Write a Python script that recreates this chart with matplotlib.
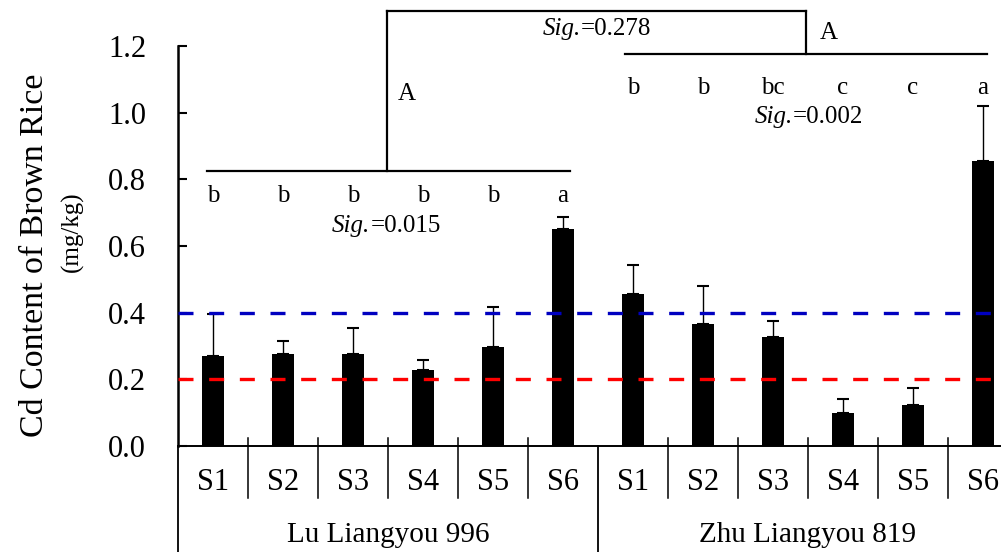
import matplotlib
matplotlib.use("Agg")
import matplotlib.pyplot as plt
import numpy as np

plt.rcParams['font.family'] = ['Liberation Serif', 'DejaVu Serif']

# data
sites = ['S1', 'S2', 'S3', 'S4', 'S5', 'S6']
varieties = ['Lu Liangyou 996', 'Zhu Liangyou 819']
cd_lu = [0.27, 0.276, 0.276, 0.228, 0.297, 0.651]
err_lu = [0.126, 0.04, 0.078, 0.03, 0.12, 0.036]
cd_zhu = [0.456, 0.366, 0.328, 0.10, 0.123, 0.856]
err_zhu = [0.087, 0.114, 0.047, 0.041, 0.051, 0.164]
letters_lu = ['b', 'b', 'b', 'b', 'b', 'a']
letters_zhu = ['b', 'b', 'bc', 'c', 'c', 'a']
sig_lu = '0.015'
sig_zhu = '0.002'
sig_between = '0.278'
limit_blue = 0.4
limit_red = 0.2

W, H = 1001, 552
fig = plt.figure(figsize=(W / 100, H / 100), dpi=100)
ax = fig.add_axes([178 / W, 106 / H, 840 / W, 400 / H])

vals = cd_lu + cd_zhu
errs = err_lu + err_zhu
x = np.arange(len(vals))

ax.bar(x, vals, width=0.32, color='black', zorder=3)
ax.errorbar(x, vals, yerr=[np.zeros(len(errs)), errs], fmt='none',
            ecolor='black', elinewidth=1.0, capsize=4.5, capthick=1.5, zorder=4)

lw = 2.4
ax.axhline(limit_blue, color='#0000c0', lw=lw, ls=(0, (4.5, 4.7)), zorder=5)
ax.axhline(limit_red, color='#ff0000', lw=lw, ls=(0, (4.5, 4.7)), zorder=5)

ax.set_xlim(-0.5, 11.5)
ax.set_ylim(0, 1.2)
ax.set_yticks(np.arange(0, 1.21, 0.2))
ax.set_yticklabels(['%.1f' % v for v in np.arange(0, 1.21, 0.2)], fontsize=22)
ax.tick_params(axis='y', direction='in', length=6.5, width=1.5, pad=23)
ax.set_xticks([])
ax.spines['top'].set_visible(False)
ax.spines['right'].set_visible(False)
ax.spines['left'].set_linewidth(1.8)
ax.spines['bottom'].set_linewidth(1.4)

# category axis below
trans = ax.get_xaxis_transform()
for i, lab in enumerate(sites + sites):
    ax.text(i, -0.11, lab, transform=trans, ha='center', va='baseline', fontsize=22)
for b in [0.5, 1.5, 2.5, 3.5, 4.5, 6.5, 7.5, 8.5, 9.5, 10.5]:
    ax.plot([b, b], [0.02, -0.13], transform=trans, color='black', lw=1.1, clip_on=False)
for b in [-0.5, 5.5, 11.5]:
    ax.plot([b, b], [0.0, -0.3], transform=trans, color='black', lw=1.3, clip_on=False)
for g, name in enumerate(varieties):
    ax.text(2.5 + 6 * g, -0.24, name, transform=trans, ha='center', va='baseline', fontsize=21)

# significance letters
for i, t in enumerate(letters_lu):
    ax.text(i, 0.732, t, ha='center', va='baseline', fontsize=18)
for i, t in enumerate(letters_zhu):
    ax.text(i + 6, 1.056, t, ha='center', va='baseline', fontsize=18, clip_on=False)


def sig_text(x0, y0, value):
    t = ax.text(x0, y0, 'Sig.', style='italic', ha='left', va='baseline', fontsize=18)
    ax.annotate('=' + value, xy=(1, 0), xycoords=t, ha='left', va='bottom', fontsize=18)


sig_text(1.70, 0.642, sig_lu)
sig_text(7.74, 0.969, sig_zhu)
sig_text(4.71, 1.233, sig_between)
ax.text(2.64, 1.038, 'A', ha='left', va='baseline', fontsize=18)
ax.text(8.67, 1.221, 'A', ha='left', va='baseline', fontsize=18, clip_on=False)

# brackets
blw = 1.6
ax.plot([-0.086, 5.1], [0.825, 0.825], color='black', lw=blw, clip_on=False)
ax.plot([2.486, 2.486], [0.825, 1.305], color='black', lw=blw, clip_on=False)
ax.plot([2.486, 8.47], [1.305, 1.305], color='black', lw=blw, clip_on=False)
ax.plot([8.47, 8.47], [1.305, 1.176], color='black', lw=blw, clip_on=False)
ax.plot([5.886, 11.06], [1.176, 1.176], color='black', lw=blw, clip_on=False)

# y label (two lines, different sizes)
fig.text(35 / W, 1 - 255 / H, 'Cd Content of Brown Rice', rotation=90,
         ha='center', va='center', fontsize=24.5)
fig.text(72 / W, 1 - 232 / H, '(mg/kg)', rotation=90,
         ha='center', va='center', fontsize=18)

fig.savefig('out.png', dpi=100)
